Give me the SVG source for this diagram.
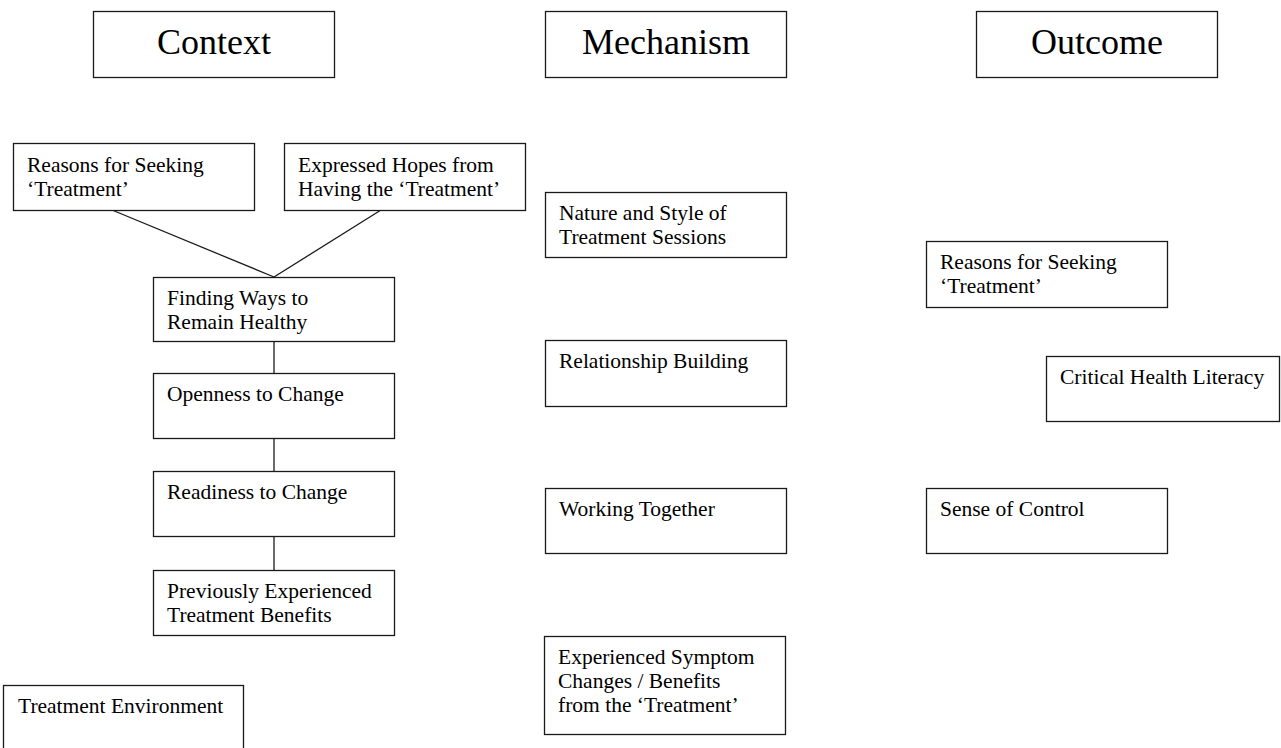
<svg xmlns="http://www.w3.org/2000/svg" width="1281" height="748" viewBox="0 0 1281 748">
<style>
.box{fill:#fff;stroke:#1a1a1a;stroke-width:1.3}
.hd{font-family:"Liberation Serif","Times New Roman",serif;font-size:36px;fill:#000;text-anchor:middle}
.lb{font-family:"Liberation Serif","Times New Roman",serif;font-size:21.5px;fill:#000}
.cn{stroke:#1a1a1a;stroke-width:1.3;fill:none}
</style>
<rect width="1281" height="748" fill="#fff"/>
<g id="connectors">
<line class="cn" x1="112" y1="210" x2="274" y2="277"/>
<line class="cn" x1="381" y1="210" x2="274" y2="277"/>
<line class="cn" x1="274" y1="342" x2="274" y2="373"/>
<line class="cn" x1="274" y1="438" x2="274" y2="471"/>
<line class="cn" x1="274" y1="536" x2="274" y2="570"/>
</g>
<g id="hdr-context"><rect class="box" x="93.5" y="11.5" width="241" height="66"/><text class="hd" x="214" y="54">Context</text></g>
<g id="hdr-mechanism"><rect class="box" x="545.5" y="11.5" width="241" height="66"/><text class="hd" x="666" y="54">Mechanism</text></g>
<g id="hdr-outcome"><rect class="box" x="976.5" y="11.5" width="241" height="66"/><text class="hd" x="1097" y="54">Outcome</text></g>

<g id="c-reasons"><rect class="box" x="13.5" y="143.5" width="241" height="67"/><text class="lb" x="27" y="172">Reasons for Seeking</text><text class="lb" x="27" y="196">‘Treatment’</text></g>
<g id="c-hopes"><rect class="box" x="284.5" y="143.5" width="241" height="67"/><text class="lb" x="298" y="172">Expressed Hopes from</text><text class="lb" x="298" y="196">Having the ‘Treatment’</text></g>
<g id="c-finding"><rect class="box" x="153.5" y="277.5" width="241" height="64"/><text class="lb" x="167" y="305">Finding Ways to</text><text class="lb" x="167" y="329">Remain Healthy</text></g>
<g id="c-openness"><rect class="box" x="153.5" y="373.5" width="241" height="65"/><text class="lb" x="167" y="401">Openness to Change</text></g>
<g id="c-readiness"><rect class="box" x="153.5" y="471.5" width="241" height="65"/><text class="lb" x="167" y="499">Readiness to Change</text></g>
<g id="c-previously"><rect class="box" x="153.5" y="570.5" width="241" height="65"/><text class="lb" x="167" y="598">Previously Experienced</text><text class="lb" x="167" y="622">Treatment Benefits</text></g>
<g id="c-environment"><rect class="box" x="3.5" y="685.5" width="240" height="70"/><text class="lb" x="18" y="713">Treatment Environment</text></g>

<g id="m-nature"><rect class="box" x="545.5" y="192.5" width="241" height="65"/><text class="lb" x="559" y="220">Nature and Style of</text><text class="lb" x="559" y="244">Treatment Sessions</text></g>
<g id="m-relationship"><rect class="box" x="545.5" y="340.5" width="241" height="66"/><text class="lb" x="559" y="368">Relationship Building</text></g>
<g id="m-working"><rect class="box" x="545.5" y="488.5" width="241" height="65"/><text class="lb" x="559" y="516">Working Together</text></g>
<g id="m-experienced"><rect class="box" x="544.5" y="636.5" width="241" height="98"/><text class="lb" x="558" y="664">Experienced Symptom</text><text class="lb" x="558" y="688">Changes / Benefits</text><text class="lb" x="558" y="712">from the ‘Treatment’</text></g>

<g id="o-reasons"><rect class="box" x="926.5" y="241.5" width="241" height="66"/><text class="lb" x="940" y="269">Reasons for Seeking</text><text class="lb" x="940" y="293">‘Treatment’</text></g>
<g id="o-critical"><rect class="box" x="1046.5" y="356.5" width="233" height="65"/><text class="lb" x="1060" y="384">Critical Health Literacy</text></g>
<g id="o-control"><rect class="box" x="926.5" y="488.5" width="241" height="65"/><text class="lb" x="940" y="516">Sense of Control</text></g>
</svg>
